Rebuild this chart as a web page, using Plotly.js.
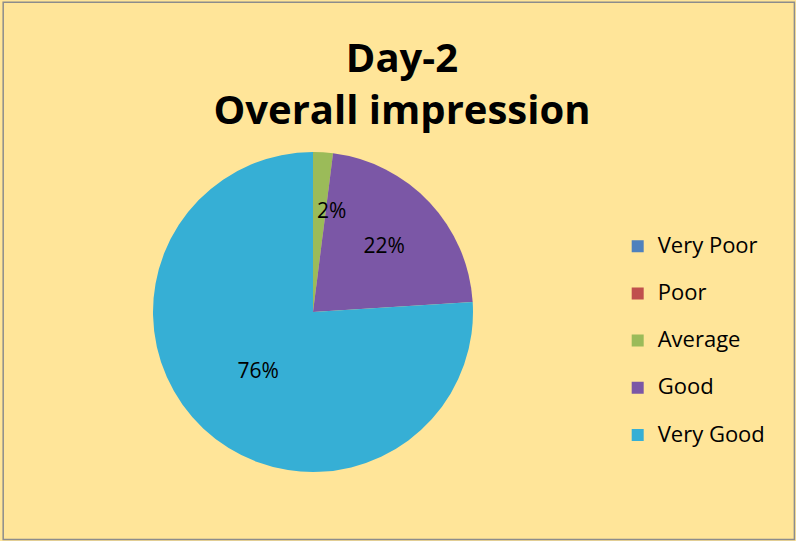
<!DOCTYPE html>
<html>
<head>
<meta charset="utf-8">
<script src="https://cdn.plot.ly/plotly-3.0.1.min.js"></script>
<style>html,body{margin:0;padding:0;background:#fff;}#chart{width:796px;height:541px;}</style>
</head>
<body>
<div id="chart"></div>
<script>
var categories = ["Very Poor", "Poor", "Average", "Good", "Very Good"];
var shares = [0, 0, 2, 22, 76];
var colors = ["#4F81BD", "#C0504D", "#9BBB59", "#7B57A6", "#36AFD5"];

var W = 796, H = 541;
var cx = 313, cy = 312, r = 160;
var FONT = "Open Sans, Liberation Sans, sans-serif";

var total = shares.reduce(function(a, b){ return a + b; }, 0);
var minFrac = 0.05;

var trace = {
  type: "pie",
  labels: categories.map(function(c){ return "<span style='font-size:22px'>" + c + "</span><br> "; }),
  values: shares,
  sort: false,
  direction: "clockwise",
  rotation: 0,
  marker: {colors: colors, line: {width: 0}},
  texttemplate: shares.map(function(v){ return v / total >= minFrac ? "%{percent:.0%}" : ""; }),
  textposition: "inside",
  insidetextorientation: "horizontal",
  textfont: {family: FONT, size: 21, color: "#000"},
  domain: {x: [(cx - r) / W, (cx + r) / W], y: [(H - cy - r) / H, (H - cy + r) / H]},
  showlegend: true,
  hoverinfo: "percent"
};

// label for small slices, placed at the slice's mid-angle
var annotations = [];
var acc = 0;
shares.forEach(function(v){
  var start = acc / total, end = (acc + v) / total;
  acc += v;
  if (v > 0 && v / total < minFrac) {
    var mid = (start + end) / 2 * 2 * Math.PI;
    var rr = r * 0.64;
    var px = cx + rr * Math.sin(mid) + 12;
    var py = cy - rr * Math.cos(mid);
    annotations.push({
      xref: "paper", yref: "paper", x: px / W, y: 1 - py / H,
      xanchor: "center", yanchor: "middle", showarrow: false,
      text: Math.round(v / total * 100) + "%",
      font: {family: FONT, size: 21, color: "#000"}
    });
  }
});

var layout = {
  width: W, height: H,
  margin: {l: 0, r: 0, t: 0, b: 0},
  paper_bgcolor: "#FFE599",
  title: {
    text: "<b>Day-2<br>Overall impression</b>",
    font: {family: FONT, size: 40, color: "#000"},
    x: 0.505, xanchor: "center", y: 0.866, yanchor: "top"
  },
  legend: {
    x: 0.776, xanchor: "left", y: 0.35, yanchor: "middle",
    valign: "top",
    font: {family: FONT, size: 17, color: "#000"},
    bgcolor: "rgba(0,0,0,0)",
    traceorder: "normal"
  },
  annotations: annotations,
  shapes: [{
    type: "rect", xref: "paper", yref: "paper", x0: 0.004, x1: 0.998, y0: 0.003, y1: 0.996,
    line: {color: "#8c8c8c", width: 1.5}, fillcolor: "rgba(0,0,0,0)"
  }]
};

Plotly.newPlot("chart", [trace], layout, {displayModeBar: false, staticPlot: true});
</script>
</body>
</html>
